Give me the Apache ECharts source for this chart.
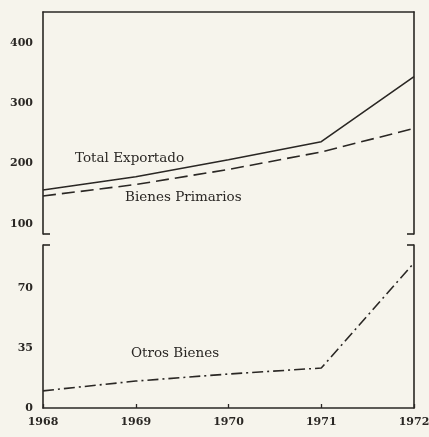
<!DOCTYPE html>
<html>
<head>
<meta charset="utf-8">
<script src="https://cdn.jsdelivr.net/npm/echarts@6/dist/echarts.min.js"></script>
<style>
  html, body { margin: 0; padding: 0; background: #f6f4ec; }
  #chart { width: 429px; height: 437px; }
</style>
</head>
<body>
<div id="chart"></div>
<script>
const years = ['1968', '1969', '1970', '1971', '1972']
const totalExportado = [156, 178, 206, 236, 344]
const bienesPrimarios = [146, 165, 190, 219, 258]
const otrosBienes = [10, 15.7, 19.8, 23.3, 84.6]
const topTicks = [100, 200, 300, 400]
const bottomTicks = [0, 35, 70]

const ink = '#2a2724'
const font = 'DejaVu Serif'

var myChart = echarts.init(document.getElementById('chart'))

const yBase = {
  axisLine: { show: true, lineStyle: { color: ink, width: 1.6 } },
  splitLine: { show: false },
  axisTick: { inside: true, length: 5, lineStyle: { color: ink, width: 1.3 } },
  axisLabel: { color: ink, fontFamily: font, fontSize: 11, fontWeight: 'bold', margin: 10 }
}

function yAxisFor(grid, min, max, ticks, pos, showLabel) {
  return {
    type: 'value', gridIndex: grid, min: min, max: max, position: pos,
    axisLine: yBase.axisLine,
    splitLine: yBase.splitLine,
    axisTick: Object.assign({}, yBase.axisTick, { customValues: ticks }),
    axisLabel: Object.assign({}, yBase.axisLabel, { show: showLabel, customValues: ticks })
  }
}

function bracket(x1, y1, x2, y2) {
  return { type: 'line', shape: { x1: x1, y1: y1, x2: x2, y2: y2 }, style: { stroke: ink, lineWidth: 1.6 } }
}

function note(text, x, y) {
  return {
    type: 'text', x: x, y: y,
    style: { text: text, fill: ink, font: '13.5px "' + font + '"', textVerticalAlign: 'middle' }
  }
}

myChart.setOption({
  backgroundColor: '#f6f4ec',
  animation: false,
  grid: [
    { left: 43, right: 15, top: 12, height: 222, outerBoundsMode: 'none' },
    { left: 43, right: 15, top: 245, height: 163, outerBoundsMode: 'none' }
  ],
  xAxis: [
    {
      type: 'category', gridIndex: 0, data: years, boundaryGap: false, position: 'top',
      axisLine: { show: true, lineStyle: { color: ink, width: 1.6 } },
      axisTick: { show: false }, axisLabel: { show: false }
    },
    {
      type: 'category', gridIndex: 1, data: years, boundaryGap: false, position: 'bottom',
      axisLine: { show: true, lineStyle: { color: ink, width: 1.6 } },
      axisTick: { inside: true, length: 4, lineStyle: { color: ink, width: 1.3 } },
      axisLabel: { color: ink, fontFamily: font, fontSize: 11, fontWeight: 'bold', margin: 9 }
    }
  ],
  yAxis: [
    yAxisFor(0, 83, 451, topTicks, 'left', true),
    yAxisFor(0, 83, 451, topTicks, 'right', false),
    yAxisFor(1, 0, 95, bottomTicks, 'left', true),
    yAxisFor(1, 0, 95, bottomTicks, 'right', false)
  ],
  series: [
    {
      name: 'Total Exportado', type: 'line', xAxisIndex: 0, yAxisIndex: 0,
      data: totalExportado, showSymbol: false,
      lineStyle: { color: ink, width: 1.6 }
    },
    {
      name: 'Bienes Primarios', type: 'line', xAxisIndex: 0, yAxisIndex: 0,
      data: bienesPrimarios, showSymbol: false,
      lineStyle: { color: ink, width: 1.6, type: [13, 6] }
    },
    {
      name: 'Otros Bienes', type: 'line', xAxisIndex: 1, yAxisIndex: 2,
      data: otrosBienes, showSymbol: false,
      lineStyle: { color: ink, width: 1.6, type: [11, 4, 2, 4] }
    }
  ],
  graphic: [
    // axis break brackets
    bracket(43, 234, 50, 234),
    bracket(414, 234, 407, 234),
    bracket(43, 245, 50, 245),
    bracket(414, 245, 407, 245),
    note('Total Exportado', 75, 158),
    note('Bienes Primarios', 125, 197),
    note('Otros Bienes', 131, 353)
  ]
})
</script>
</body>
</html>
